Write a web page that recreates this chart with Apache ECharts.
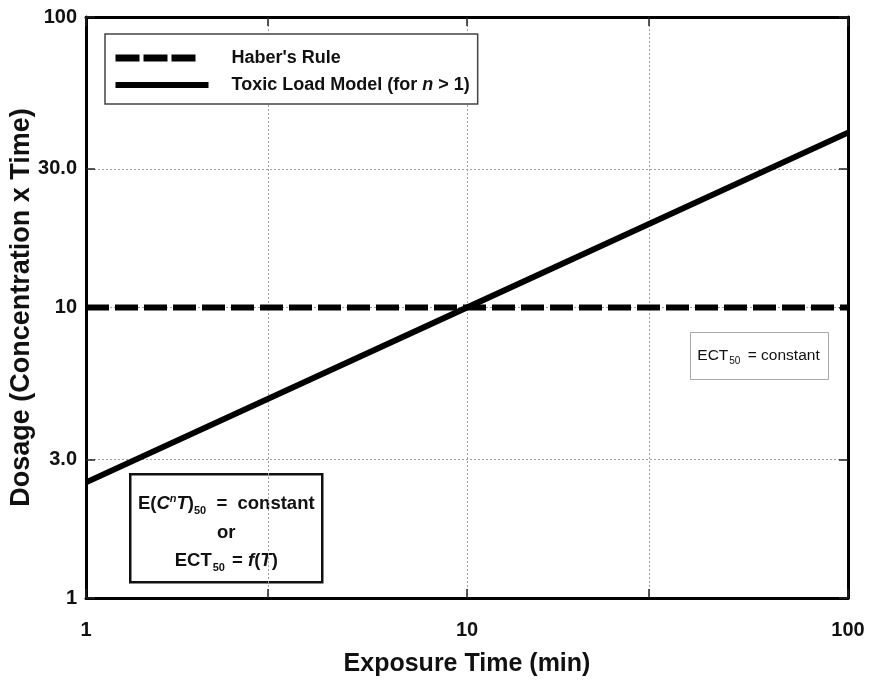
<!DOCTYPE html>
<html>
<head>
<meta charset="utf-8">
<script src="https://cdn.jsdelivr.net/npm/echarts@6/dist/echarts.min.js"></script>
<style>
  html, body { margin: 0; padding: 0; background: #fff; }
  #chart { width: 872px; height: 682px; }
</style>
</head>
<body>
<div id="chart"></div>
<script>
// Exposure time (min) and dosage axes, both logarithmic
const timeTicks = [1, 3, 10, 30, 100];
const timeLabels = [1, 10, 100];
const dosageTicks = [1, 3, 10, 30, 100];
const dosageLabels = [1, 3, 10, 30, 100];
const dosageLabelText = { 1: '1', 3: '3.0', 10: '10', 30: '30.0', 100: '100' };

// Haber's rule: constant dosage
const haberTime = [1, 100];
const haberDosage = [10, 10];

// Toxic load model (n > 1): dosage grows with exposure time
const toxicTime = [1, 10, 100];
const toxicDosage = [2.5, 10, 40];

const FONT = '"Liberation Sans", Arial, sans-serif';
const INK = '#111';

const chart = echarts.init(document.getElementById('chart'), null, { renderer: 'canvas' });

const frameLine = { show: true, onZero: false, lineStyle: { color: '#000', width: 3 } };
const grid = { show: true, lineStyle: { color: '#a0a0a0', width: 1, type: [2, 2] } };
const innerTick = { show: true, inside: true, length: 9, lineStyle: { color: '#222', width: 1.5 } };

const boldText = size => ({ fontFamily: FONT, fontWeight: 'bold', fontSize: size, fill: INK });
const boldItalic = size => ({ fontFamily: FONT, fontWeight: 'bold', fontStyle: 'italic', fontSize: size, fill: INK });

const option = {
  backgroundColor: '#fff',
  animation: false,
  grid: { left: 86, right: 24, top: 17, bottom: 84, containLabel: false, outerBoundsMode: 'none' },
  legend: {
    left: 105, top: 34,
    orient: 'vertical',
    itemWidth: 93, itemHeight: 14, itemGap: 9,
    padding: [15, 8, 10, 7],
    borderColor: '#444', borderWidth: 1.5, backgroundColor: '#fff',
    itemStyle: { opacity: 0 },
    lineStyle: { width: 6 },
    textStyle: {
      fontFamily: FONT, fontWeight: 'bold', fontSize: 18, color: INK, padding: [0, 0, 0, 18],
      rich: {
        t: { fontFamily: FONT, fontWeight: 'bold', fontSize: 18, color: INK },
        i: { fontFamily: FONT, fontWeight: 'bold', fontStyle: 'italic', fontSize: 18, color: INK }
      }
    },
    data: [
      { name: "Haber's Rule", lineStyle: { width: 7, type: [24, 4, 24, 4, 24, 100] } },
      { name: 'Toxic Load Model (for n > 1)', lineStyle: { width: 6 } }
    ],
    formatter: name => name === "Haber's Rule" ? name : '{t|Toxic Load Model (for }{i|n}{t| > 1)}'
  },
  xAxis: [{
    type: 'log', logBase: 10, min: 1, max: 100,
    name: 'Exposure Time (min)', nameLocation: 'middle', nameGap: 54, nameMoveOverlap: false,
    nameTextStyle: { fontFamily: FONT, fontWeight: 'bold', fontSize: 25, color: INK },
    axisLine: frameLine,
    axisTick: Object.assign({ customValues: timeTicks }, innerTick),
    axisLabel: { customValues: timeLabels, margin: 22, fontFamily: FONT, fontWeight: 'bold', fontSize: 20, color: INK,
      formatter: v => String(Math.round(v)) },
    splitLine: grid
  }, {
    type: 'log', logBase: 10, min: 1, max: 100, position: 'top',
    axisLine: frameLine,
    axisTick: Object.assign({ customValues: timeTicks }, innerTick),
    axisLabel: { show: false },
    splitLine: { show: false }
  }],
  yAxis: [{
    type: 'log', logBase: 10, min: 1, max: 100,
    name: 'Dosage (Concentration x Time)', nameLocation: 'middle', nameGap: 51, nameMoveOverlap: false,
    nameTextStyle: { fontFamily: FONT, fontWeight: 'bold', fontSize: 27, color: INK },
    axisLine: frameLine,
    axisTick: Object.assign({ customValues: dosageTicks }, innerTick),
    axisLabel: { customValues: dosageLabels, margin: 9, fontFamily: FONT, fontWeight: 'bold', fontSize: 20, color: INK,
      formatter: v => dosageLabelText[Math.round(v)] },
    splitLine: grid
  }, {
    type: 'log', logBase: 10, min: 1, max: 100, position: 'right',
    axisLine: frameLine,
    axisTick: Object.assign({ customValues: dosageTicks }, innerTick),
    axisLabel: { show: false },
    splitLine: { show: false }
  }],
  series: [{
    name: "Haber's Rule",
    type: 'line',
    symbol: 'none', showSymbol: false,
    data: haberTime.map((t, i) => [t, haberDosage[i]]),
    lineStyle: { color: '#000', width: 6, type: [23, 6] },
    itemStyle: { color: '#000' },
    z: 3
  }, {
    name: 'Toxic Load Model (for n > 1)',
    type: 'line',
    symbol: 'none', showSymbol: false,
    data: toxicTime.map((t, i) => [t, toxicDosage[i]]),
    lineStyle: { color: '#000', width: 6 },
    itemStyle: { color: '#000' },
    z: 4
  }],
  graphic: [{
    // ECT50 = constant (Haber's rule)
    type: 'group', left: 690, top: 332,
    children: [{
      type: 'rect', shape: { x: 0, y: 0, width: 138, height: 47 },
      style: { fill: '#fff', stroke: '#a8a8a8', lineWidth: 1 }
    }, {
      type: 'text', x: 68, y: 23,
      style: {
        text: '{n|ECT}{s|50}{n| = constant}',
        align: 'center', verticalAlign: 'middle',
        rich: {
          n: { fontFamily: FONT, fontSize: 15.5, fill: INK },
          s: { fontFamily: FONT, fontSize: 10, fill: INK, padding: [11, 3, 0, 1] }
        }
      }
    }]
  }, {
    // toxic load model relation
    type: 'group', left: 129, top: 473,
    children: [{
      type: 'rect', shape: { x: 0, y: 0, width: 192, height: 108 },
      style: { fill: '#fff', stroke: INK, lineWidth: 2.5 }
    }, {
      type: 'text', x: 96, y: 30,
      style: {
        text: '{b|E(}{i|C}{sup|n}{i|T}{b|)}{sub|50}{b|  =  constant}',
        align: 'center', verticalAlign: 'middle',
        rich: {
          b: boldText(18.5),
          i: boldItalic(18.5),
          sup: Object.assign(boldItalic(11), { padding: [0, 0, 11, 0] }),
          sub: Object.assign(boldText(11), { padding: [13, 0, 0, 0] })
        }
      }
    }, {
      type: 'text', x: 96, y: 59,
      style: Object.assign({ text: 'or', align: 'center', verticalAlign: 'middle' }, boldText(18.5))
    }, {
      type: 'text', x: 96, y: 87,
      style: {
        text: '{b|ECT}{sub|50}{b| = }{i|f}{b|(}{i|T}{b|)}',
        align: 'center', verticalAlign: 'middle',
        rich: {
          b: boldText(18.5),
          i: boldItalic(18.5),
          sub: Object.assign(boldText(11), { padding: [13, 2, 0, 1] })
        }
      }
    }]
  }]
};

chart.setOption(option);
</script>
</body>
</html>
